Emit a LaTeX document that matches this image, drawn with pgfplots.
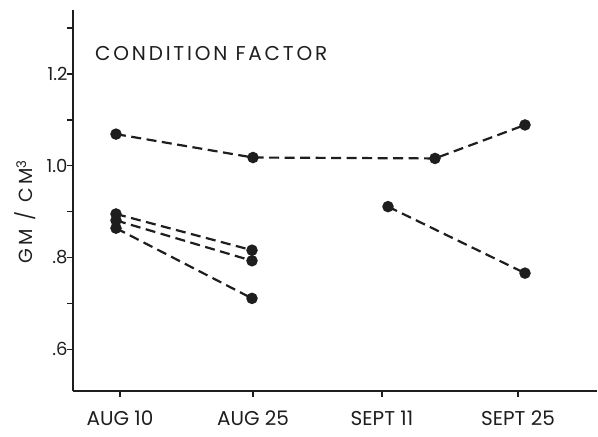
\documentclass[border=0pt]{standalone}
\usepackage{fontspec}
\setmainfont{Poppins}
\usepackage{pgfplots}
\pgfplotsset{compat=1.18}
\definecolor{ink}{HTML}{1E1E1E}

\begin{document}
\begin{tikzpicture}
\begin{axis}[
    name=ax,
    scale only axis,
    width=524pt, height=380.7pt,
    xmin=73, xmax=597,
    ymin=0.5098, ymax=1.3395,
    axis x line=bottom, axis y line=left,
    axis line style={-, line width=1.8pt, ink},
    tick align=outside,
    tick style={line width=1.4pt, ink},
    major tick length=6pt, minor tick length=6pt,
    xtick={120,253,382,518},
    xticklabels={AUG 10, AUG 25, SEPT 11, SEPT 25},
    ytick={0.6,0.8,1.0,1.2},
    yticklabels={.6,.8,1.0,1.2},
    minor ytick={0.7,0.9,1.1,1.3},
    yticklabel style={font=\fontsize{18}{20}\selectfont, text=ink, xshift=4pt},
    xticklabel style={font=\fontsize{20}{22}\selectfont, text=ink, yshift=-11pt},
    clip=false,
    ser/.style={
      ink, line width=2.2pt, dash pattern=on 10pt off 5.5pt,
      mark=*, mark size=4.6pt, mark options={solid, fill=ink, draw=ink}},
  ]
  % large fish series
  \addplot[ser] coordinates {(116,1.069) (253,1.018) (435,1.016) (525,1.089)};
  \addplot[ser] coordinates {(388,0.911) (525,0.766)};
  % three aug series
  \addplot[ser] coordinates {(116,0.895) (252,0.816)};
  \addplot[ser] coordinates {(116,0.881) (252,0.793)};
  \addplot[ser] coordinates {(116,0.864) (252,0.711)};

  \node[anchor=west, inner sep=0pt, text=ink,
        font=\addfontfeature{LetterSpace=14}\fontsize{20}{22}\selectfont]
    at (axis cs:95,1.2436) {CONDITION FACTOR};
  \node[rotate=90, inner sep=0pt, text=ink,
        font=\addfontfeature{LetterSpace=18}\fontsize{19}{21}\selectfont]
    at (axis cs:25,0.90) {GM / CM\textsuperscript{3}};
\end{axis}
\pgfresetboundingbox
\path[use as bounding box] ([shift={(-73pt,-45.3pt)}]ax.south west)
  rectangle ([shift={(1pt,10pt)}]ax.north east);
\end{tikzpicture}
\end{document}
